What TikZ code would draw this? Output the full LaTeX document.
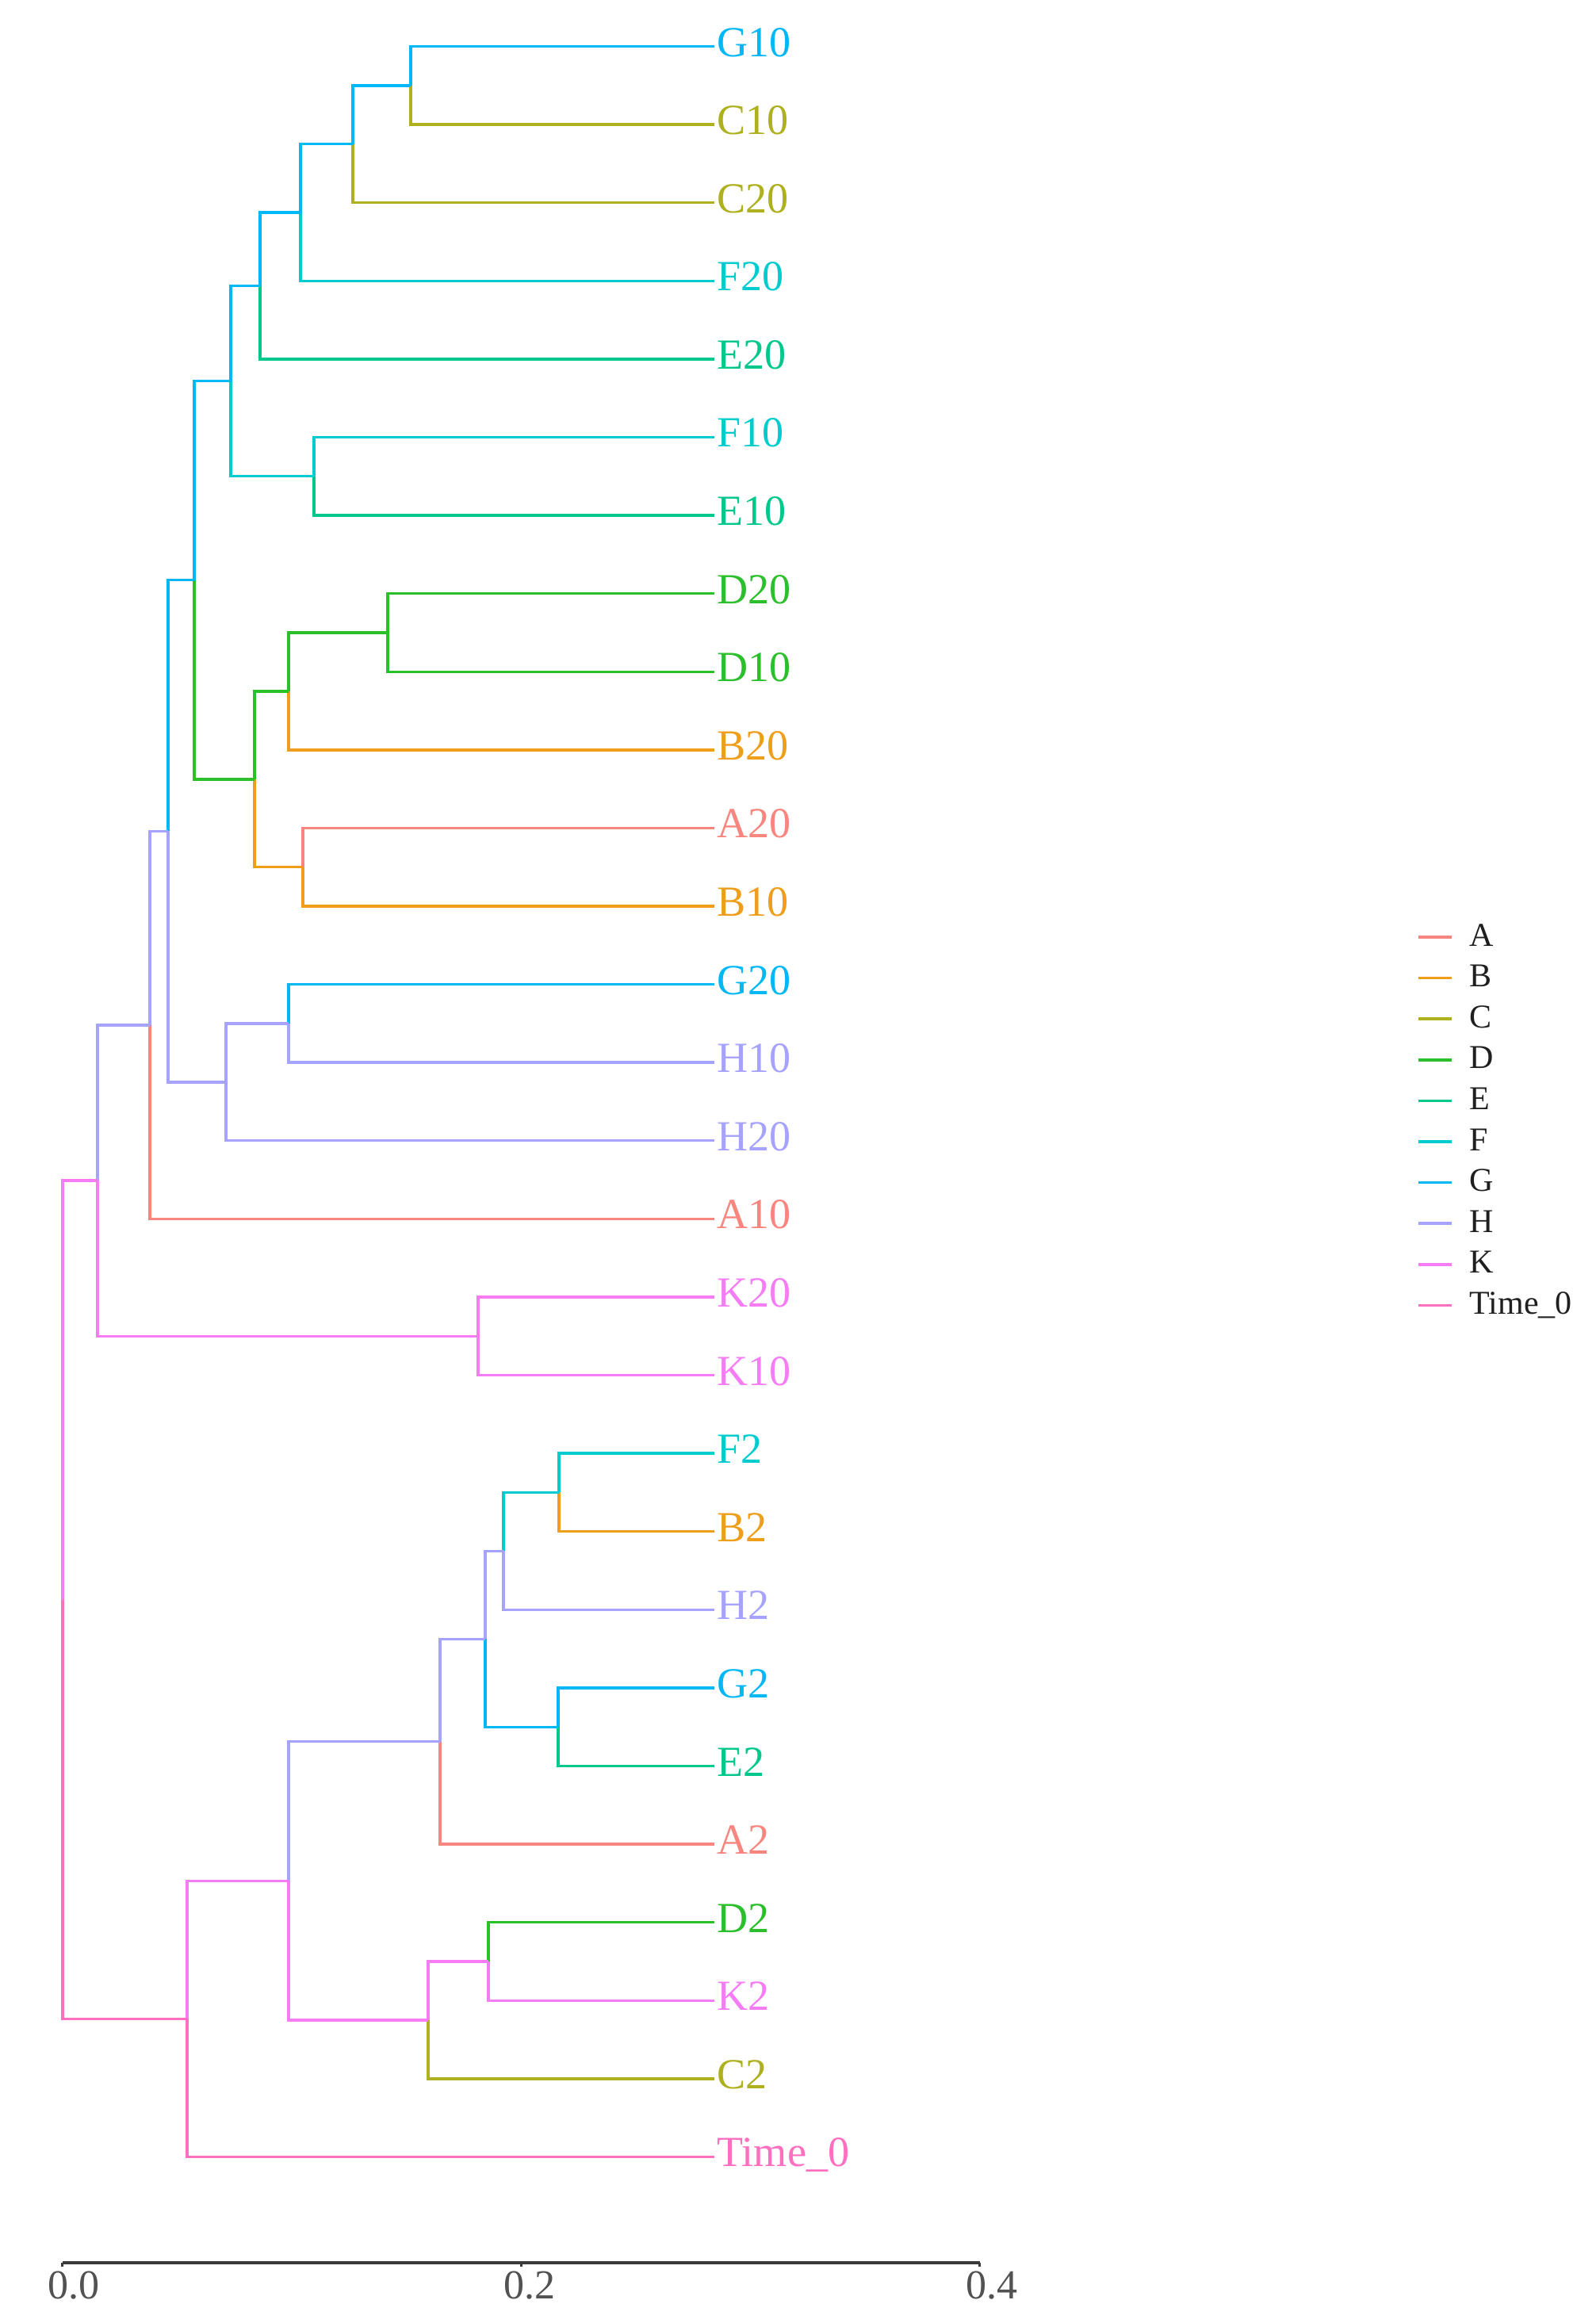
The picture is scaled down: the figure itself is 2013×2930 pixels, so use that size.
\documentclass[tikz,border=0pt]{standalone}
\usepackage{fontspec}
\setmainfont{Liberation Serif}
\definecolor{cA}{HTML}{F8857E}
\definecolor{cB}{HTML}{EE9E1A}
\definecolor{cC}{HTML}{AEB01E}
\definecolor{cD}{HTML}{2CBF2C}
\definecolor{cE}{HTML}{00C88C}
\definecolor{cF}{HTML}{00CCCF}
\definecolor{cG}{HTML}{00B8F5}
\definecolor{cH}{HTML}{A6A2FF}
\definecolor{cK}{HTML}{F57CF5}
\definecolor{cT}{HTML}{FF6FC0}
\definecolor{axgray}{HTML}{3A3A3A}
\begin{document}
\begin{tikzpicture}[x=0.01cm,y=-0.01cm,
  branch/.style={line width=0.034cm},
  leaflab/.style={anchor=base west,inner sep=0pt,font=\fontsize{15.4pt}{18pt}\selectfont},
  legline/.style={line width=0.035cm},
  leglab/.style={anchor=base west,inner sep=0pt,text=black!88,font=\fontsize{11.95pt}{14pt}\selectfont},
  axlab/.style={anchor=base,inner sep=0pt,text=black!68,font=\fontsize{14.8pt}{17pt}\selectfont},
  axtick/.style={line width=0.03cm,axgray}]
\useasboundingbox (0,0) rectangle (2013,2930);
% leaves
\foreach \n/\lab/\i/\c in {G10/G10/0/cG, C10/C10/1/cC, C20/C20/2/cC, F20/F20/3/cF,
  E20/E20/4/cE, F10/F10/5/cF, E10/E10/6/cE, D20/D20/7/cD, D10/D10/8/cD,
  B20/B20/9/cB, A20/A20/10/cA, B10/B10/11/cB, G20/G20/12/cG, H10/H10/13/cH,
  H20/H20/14/cH, A10/A10/15/cA, K20/K20/16/cK, K10/K10/17/cK, F2/F2/18/cF,
  B2/B2/19/cB, H2/H2/20/cH, G2/G2/21/cG, E2/E2/22/cE, A2/A2/23/cA, D2/D2/24/cD,
  K2/K2/25/cK, C2/C2/26/cC, T0/Time\_0/27/cT}{
  \coordinate (l\n) at (901,{58.5+98.59*\i});
  \node[leaflab,text=\c] (t\n) at (904,{58.5+98.59*\i+12.5}) {\lab};
}
% internal nodes
\coordinate (n1) at (518,107.8);
\coordinate (n2) at (445,181.75);
\coordinate (n3) at (379,268.0);
\coordinate (n4) at (328,360.5);
\coordinate (n5) at (396,600.75);
\coordinate (n6) at (291,480.6);
\coordinate (n7) at (489,797.9);
\coordinate (n8) at (364,871.85);
\coordinate (n9) at (382,1093.7);
\coordinate (n10) at (321,982.8);
\coordinate (n11) at (245,731.7);
\coordinate (n12) at (364,1290.9);
\coordinate (n13) at (285,1364.85);
\coordinate (n14) at (212,1048.3);
\coordinate (n15) at (189,1292.85);
\coordinate (n16) at (603,1685.25);
\coordinate (n17) at (123,1489.05);
\coordinate (n18) at (705,1882.4);
\coordinate (n19) at (635,1956.35);
\coordinate (n20) at (704,2178.2);
\coordinate (n21) at (612,2067.3);
\coordinate (n22) at (555,2196.7);
\coordinate (n23) at (616,2474.0);
\coordinate (n24) at (540,2547.95);
\coordinate (n25) at (364,2372.3);
\coordinate (n26) at (236,2546.4);
\coordinate (root) at (79,2017.7);
% branches
\foreach \p/\ch/\col in {n1/lG10/cG, n1/lC10/cC, n2/n1/cG, n2/lC20/cC,
  n3/n2/cG, n3/lF20/cF, n4/n3/cG, n4/lE20/cE, n5/lF10/cF, n5/lE10/cE,
  n6/n4/cG, n6/n5/cF, n7/lD20/cD, n7/lD10/cD, n8/n7/cD, n8/lB20/cB,
  n9/lA20/cA, n9/lB10/cB, n10/n8/cD, n10/n9/cB, n11/n6/cG, n11/n10/cD,
  n12/lG20/cG, n12/lH10/cH, n13/n12/cH, n13/lH20/cH, n14/n11/cG, n14/n13/cH,
  n15/n14/cH, n15/lA10/cA, n16/lK20/cK, n16/lK10/cK, n17/n15/cH, n17/n16/cK,
  n18/lF2/cF, n18/lB2/cB, n19/n18/cF, n19/lH2/cH, n20/lG2/cG, n20/lE2/cE,
  n21/n19/cH, n21/n20/cG, n22/n21/cH, n22/lA2/cA, n23/lD2/cD, n23/lK2/cK,
  n24/n23/cK, n24/lC2/cC, n25/n22/cH, n25/n24/cK, n26/n25/cK, n26/lT0/cT,
  root/n17/cK, root/n26/cT}{
  \draw[branch,\col] (\p) |- (\ch);
}
% legend
\foreach \lab/\i/\c in {A/0/cA, B/1/cB, C/2/cC, D/3/cD, E/4/cE, F/5/cF,
  G/6/cG, H/7/cH, K/8/cK, Time\_0/9/cT}{
  \coordinate (ga\i) at (1789,{1182+51.6*\i});
  \coordinate (gb\i) at (1831,{1182+51.6*\i});
  \draw[legline,\c] (ga\i) -- (gb\i);
  \node[leglab] (gt\i) at (1853,{1182+51.6*\i+11}) {\lab};
}
% axis
\coordinate (ax0) at (78.6,2854);
\coordinate (ax2) at (657,2854);
\coordinate (ax4) at (1235.5,2854);
\draw[line width=0.04cm,axgray] (ax0) -- (ax4);
\foreach \a in {ax0,ax2,ax4}{
  \draw[axtick] (\a) -- ++(0,5);
}
\node[axlab] (lab0) at (93,2899) {0.0};
\node[axlab] (lab2) at (668,2899) {0.2};
\node[axlab] (lab4) at (1251,2899) {0.4};
\end{tikzpicture}
\end{document}
